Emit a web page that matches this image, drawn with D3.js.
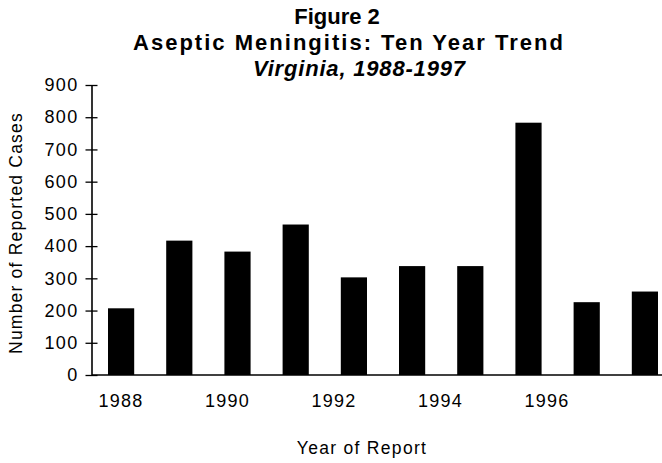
<!DOCTYPE html>
<html>
<head>
<meta charset="utf-8">
<script src="https://cdn.jsdelivr.net/npm/d3@7"></script>
<style>
  body { margin: 0; background: #fff; }
  svg { display: block; }
  text { font-family: "Liberation Sans", Arial, Helvetica, sans-serif; fill: #000; }
</style>
</head>
<body>
<div id="graph-container"></div>
<script>
// data
var years = [1988, 1989, 1990, 1991, 1992, 1993, 1994, 1995, 1996, 1997];
var cases = [207, 417, 383, 467, 303, 338, 338, 783, 226, 259];
var y_ticks = [0, 100, 200, 300, 400, 500, 600, 700, 800, 900];
var x_labels = [1988, 1990, 1992, 1994, 1996];
var title_lines = ['Figure 2', 'Aseptic Meningitis: Ten Year Trend', 'Virginia, 1988-1997'];

var w = 662, h = 463;

var svg = d3.select('#graph-container').append('svg')
    .attr('width', w).attr('height', h);

// scales
var x = d3.scaleBand().domain(years).range([92, 674])
    .paddingInner(0.55).paddingOuter(0.275);
var y = d3.scaleLinear().domain([0, 900]).range([375, 85]);
// year labels in the original are not centred under the bars
var x_lab = d3.scaleLinear().domain([1988, 1996]).range([121, 547]);

// bars
svg.append('g').selectAll('rect').data(cases).enter()
    .append('rect')
    .attr('x', (d, i) => x(years[i]))
    .attr('width', x.bandwidth())
    .attr('y', d => y(d))
    .attr('height', d => y(0) - y(d))
    .style('fill', '#000');

// x axis line (no ticks)
svg.append('line')
    .attr('x1', x.range()[0]).attr('x2', w)
    .attr('y1', y(0)).attr('y2', y(0))
    .style('stroke', '#000').style('stroke-width', 1.3);

// y axis with cross ticks
var y_axis = d3.axisLeft(y).tickValues(y_ticks).tickSize(6).tickPadding(7).tickSizeOuter(0);
svg.append('g')
    .attr('transform', 'translate(91.5,0)')
    .call(y_axis)
    .call(g => g.select('.domain').style('stroke-width', 1.6))
    .call(g => g.selectAll('.tick line').attr('x1', 6).style('stroke-width', 1.3))
    .call(g => g.selectAll('.tick text')
        .style('font-size', '18px').style('letter-spacing', '1.3px')
        .attr('font-family', null));

// year labels
svg.append('g').selectAll('text').data(x_labels).enter()
    .append('text')
    .attr('x', d => x_lab(d))
    .attr('y', 407)
    .style('text-anchor', 'middle')
    .style('font-size', '18px')
    .style('letter-spacing', '1.3px')
    .text(d => d);

// axis titles
svg.append('text')
    .attr('x', 362).attr('y', 454)
    .style('text-anchor', 'middle')
    .style('font-size', '17.5px')
    .style('letter-spacing', '1.3px')
    .text('Year of Report');

svg.append('text')
    .attr('transform', 'translate(22,233) rotate(-90)')
    .style('text-anchor', 'middle')
    .style('font-size', '17.5px')
    .style('letter-spacing', '1.2px')
    .text('Number of Reported Cases');

// title block
var title_x = [337, 348, 359];
var title_len = [null, 430, 212];
var title_y = [24, 50, 76];
svg.append('g').selectAll('text').data(title_lines).enter()
    .append('text')
    .attr('x', (d, i) => title_x[i])
    .attr('y', (d, i) => title_y[i])
    .attr('textLength', (d, i) => title_len[i])
    .attr('lengthAdjust', 'spacing')
    .style('text-anchor', 'middle')
    .style('font-size', '22px')
    .style('font-weight', 'bold')
    .style('font-style', (d, i) => i == 2 ? 'italic' : 'normal')
    .text(d => d);
</script>
</body>
</html>
